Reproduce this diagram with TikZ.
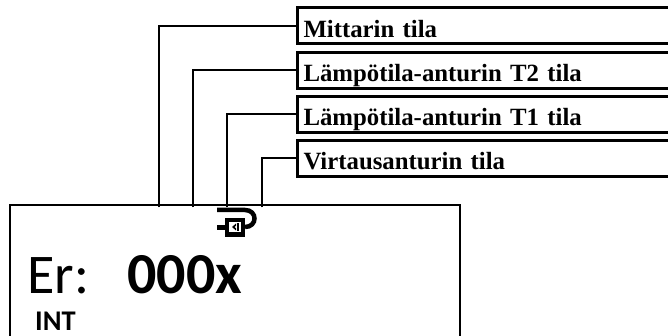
\documentclass[tikz,border=0pt]{standalone}
\usepackage{fontspec}
\setmainfont{Liberation Serif}
\newfontfamily\lcdfont{Carlito}
\usetikzlibrary{positioning}
\tikzset{
  labelbox/.style={draw, line width=3pt, anchor=north west, minimum width=400pt, inner xsep=6pt, inner ysep=0pt, text width=388pt, text height=29.5pt, text depth=6.5pt, align=left, font=\fontsize{24.8}{26}\selectfont\bfseries},
  leader/.style={line width=2pt},
}
\begin{document}
\begin{tikzpicture}[x=1pt, y=-1pt]
    \useasboundingbox (0,0) rectangle (668,336);
    \clip (0,0) rectangle (668,336);

    % Display
    \draw[line width=2pt] (10,336) -- (10,205) -- (460,205) -- (460,336);
    \node[anchor=base west, inner sep=0pt, font=\lcdfont\fontsize{56}{56}\selectfont] (er) at (27,293) {Er:};
    \node[anchor=base west, inner sep=0pt, font=\lcdfont\bfseries\fontsize{58}{58}\selectfont] (value) at (127,293) {000x};
    \node[anchor=base west, inner sep=0pt, font=\lcdfont\bfseries\fontsize{28.5}{29}\selectfont] (mode) at (35,330.5) {INT};

    % Label boxes
    \node[labelbox] (meter) at (296,6.5) {Mittarin tila};
    \node[labelbox] (tempb) at (296,51) {Lämpötila-anturin T2 tila};
    \node[labelbox] (tempa) at (296,95) {Lämpötila-anturin T1 tila};
    \node[labelbox] (flow) at (296,139) {Virtausanturin tila};

    % Leader ends on the display
    \coordinate (a) at (159,207.5);
    \coordinate (b) at (193,207.5);
    \coordinate (c) at (227,207.5);
    \coordinate (d) at (262,207.5);

    % Leaders
    \draw[leader] (a) |- (meter.west);
    \draw[leader] (b) |- (tempb.west);
    \draw[leader] (c) |- (tempa.west);
    \draw[leader] (d) |- (flow.west);

    % Sensor icon
    \fill (225,218) rectangle (245,237);
    \draw[line width=4.5pt] (217,210) -- (245,210) .. controls (251,210) and (254.5,214) .. (254.5,218.5) .. controls (254.5,223) and (251,227) .. (245,227);
    \draw[line width=4.5pt] (217,227.5) -- (226,227.5);
    \fill[white] (229,222) rectangle (240.5,232);
    \fill (236,223.5) -- (232,227) -- (236,230.5) -- (236,228.5) -- (234.5,227) -- (236,225.5) -- cycle;
    \fill (237,223) rectangle (238.5,231);
\end{tikzpicture}
\end{document}
